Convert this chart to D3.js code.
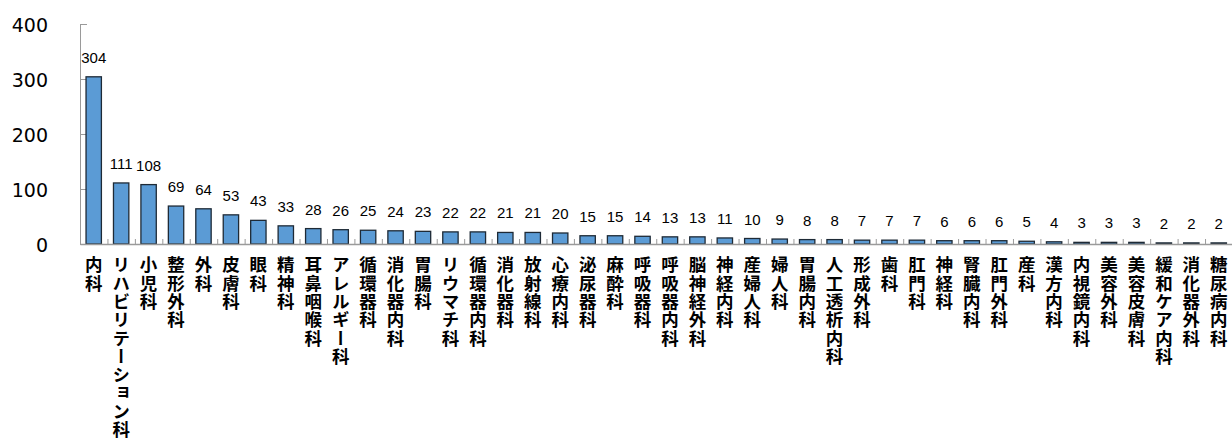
<!DOCTYPE html>
<html lang="ja">
  <head>
    <meta charset="UTF-8" />
    <title>診療科別</title>
    <script src="https://cdn.jsdelivr.net/npm/d3@7"></script>
    <style>
      body { margin: 0; background: #fff; }
    </style>
  </head>
  <body>
    <script>
      // 診療科と件数
      var categories = [
        "内科", "リハビリテーション科", "小児科", "整形外科", "外科", "皮膚科",
        "眼科", "精神科", "耳鼻咽喉科", "アレルギー科", "循環器科", "消化器内科",
        "胃腸科", "リウマチ科", "循環器内科", "消化器科", "放射線科", "心療内科",
        "泌尿器科", "麻酔科", "呼吸器科", "呼吸器内科", "脳神経外科", "神経内科",
        "産婦人科", "婦人科", "胃腸内科", "人工透析内科", "形成外科", "歯科",
        "肛門科", "神経科", "腎臓内科", "肛門外科", "産科", "漢方内科",
        "内視鏡内科", "美容外科", "美容皮膚科", "緩和ケア内科", "消化器外科", "糖尿病内科"
      ];
      var counts = [
        304, 111, 108, 69, 64, 53, 43, 33, 28, 26, 25, 24, 23, 22, 22, 21, 21, 20,
        15, 15, 14, 13, 13, 11, 10, 9, 8, 8, 7, 7, 7, 6, 6, 6, 5, 4, 3, 3, 3, 2, 2, 2
      ];
      var yTicks = [0, 100, 200, 300, 400];

      var data = categories.map(function (c, i) {
        return { name: c, value: counts[i] };
      });

      var width = 1232,
        height = 444;
      var mLeft = 80,
        step = 27.44,
        mTop = 24,
        mBottom = 244;

      var svg = d3
        .select("body")
        .append("svg")
        .attr("width", width)
        .attr("height", height);

      var x = d3
        .scaleBand()
        .domain(categories)
        .range([mLeft, mLeft + step * categories.length])
        .paddingInner(0.44)
        .paddingOuter(0.22);

      var y = d3.scaleLinear().domain([0, 400]).range([mBottom, mTop]);

      // y axis (ticks inside)
      var yAxis = svg
        .append("g")
        .attr("transform", "translate(" + mLeft + ",0)")
        .call(
          d3.axisLeft(y).tickValues(yTicks).tickSizeInner(-7).tickSizeOuter(0).tickPadding(32)
        );
      yAxis.select(".domain").attr("stroke", "#9a9a9a");
      yAxis.selectAll(".tick line").attr("stroke", "#9a9a9a");
      yAxis
        .selectAll(".tick text")
        .attr("fill", "#000")
        .attr("font-family", "DejaVu Sans")
        .attr("font-size", 19)
        .attr("dy", "0.38em");

      // bars
      svg
        .selectAll("rect.bar")
        .data(data)
        .enter()
        .append("rect")
        .attr("class", "bar")
        .attr("x", function (d) { return x(d.name); })
        .attr("y", function (d) { return y(d.value); })
        .attr("width", x.bandwidth())
        .attr("height", function (d) { return y(0) - y(d.value); })
        .attr("fill", "#5b9bd5")
        .attr("stroke", "#1e2a36")
        .attr("stroke-width", 1.3);

      // x axis with ticks between categories
      var xb = d3.scaleLinear().domain([0, categories.length]).range(x.range());
      var xAxis = svg
        .append("g")
        .attr("transform", "translate(0," + mBottom + ")")
        .call(
          d3.axisBottom(xb)
            .tickValues(d3.range(0, categories.length + 1))
            .tickSizeInner(-5)
            .tickSizeOuter(0)
            .tickFormat("")
        );
      xAxis.select(".domain").attr("stroke", "#9a9a9a").attr("stroke-width", 1.3);
      xAxis.selectAll(".tick line").attr("stroke", "#9a9a9a");

      // value labels
      svg
        .selectAll("text.val")
        .data(data)
        .enter()
        .append("text")
        .attr("class", "val")
        .attr("x", function (d) { return x(d.name) + x.bandwidth() / 2; })
        .attr("y", function (d) { return y(d.value) - 14; })
        .attr("text-anchor", "middle")
        .attr("font-family", "Liberation Sans")
        .attr("font-size", 15)
        .attr("fill", "#000")
        .text(function (d) { return d.value; });

      // category labels (縦書き)
      svg
        .selectAll("text.cat")
        .data(data)
        .enter()
        .append("text")
        .attr("class", "cat")
        .attr("x", function (d) { return x(d.name) + x.bandwidth() / 2; })
        .attr("y", 256)
        .attr("text-anchor", "start")
        .style("writing-mode", "vertical-rl")
        .attr("font-family", "Noto Sans CJK JP")
        .attr("font-weight", "bold")
        .attr("font-size", 17.5)
        .attr("letter-spacing", 0.8)
        .attr("fill", "#000")
        .text(function (d) { return d.name; });
    </script>
  </body>
</html>
